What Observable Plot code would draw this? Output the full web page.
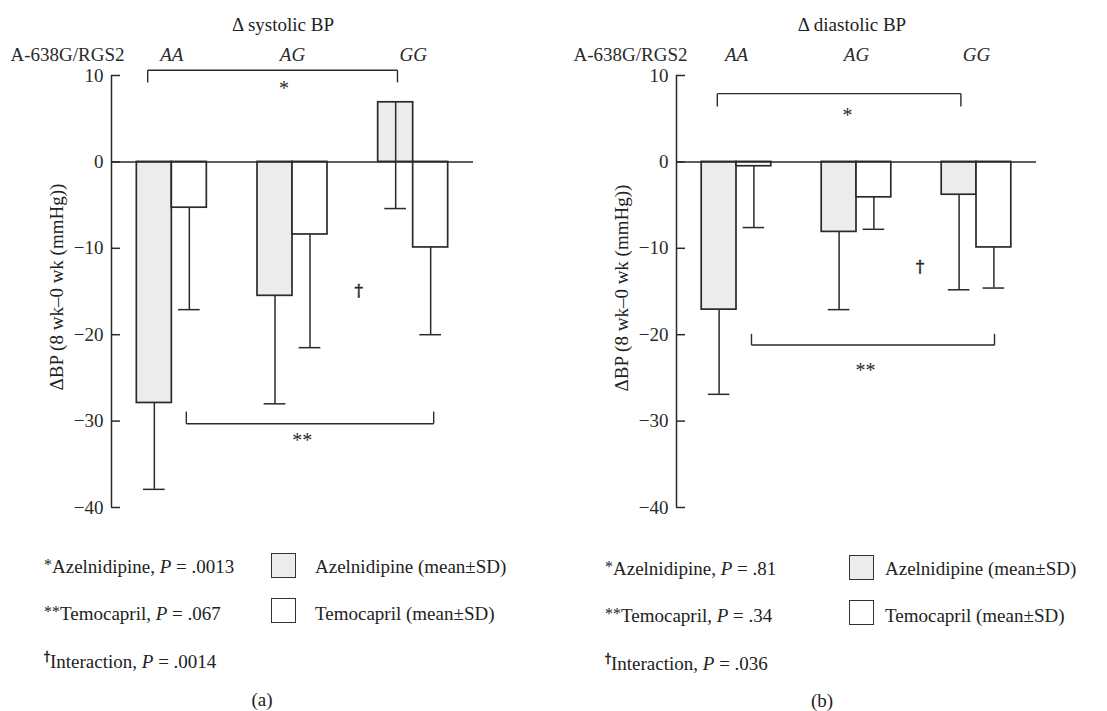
<!DOCTYPE html>
<html><head><meta charset="utf-8">
<script src="https://cdn.jsdelivr.net/npm/d3@7"></script>
<script src="https://cdn.jsdelivr.net/npm/@observablehq/plot@0.6"></script>
<style>
body{margin:0;background:#fff;}
#root{position:relative;width:1107px;height:711px;font-family:"Liberation Serif",serif;color:#222;}
.abs{position:absolute;white-space:nowrap;font-size:19px;line-height:20px;}
.title{transform:translateX(-50%);}
.ylab{transform:translate(-50%,-50%) rotate(-90deg);}
.box{position:absolute;width:25px;height:25px;border:1.5px solid #333;box-sizing:border-box;}
sup{font-size:12px;vertical-align:7px;line-height:0;}
.dag{font-family:"DejaVu Serif",serif;-webkit-text-stroke:0.5px #222;color:#222;}
</style></head>
<body><div id="root"></div>
<script>
// ---------- data ----------
const genotypes = ["AA", "AG", "GG"];
const treatments = ["Azelnidipine", "Temocapril"];
const fills = {Azelnidipine: "#ececec", Temocapril: "#ffffff"};
// panel (a): systolic
const sysAzelMean = [-27.9, -15.5, 6.9];
const sysAzelSD   = [10.0, 12.5, 12.3];
const sysTemoMean = [-5.3, -8.4, -9.9];
const sysTemoSD   = [11.8, 13.1, 10.1];
// panel (b): diastolic
const diaAzelMean = [-17.1, -8.1, -3.8];
const diaAzelSD   = [9.8, 9.0, 11.0];
const diaTemoMean = [-0.5, -4.1, -9.9];
const diaTemoSD   = [7.1, 3.7, 4.7];
const yTicks = [10, 0, -10, -20, -30, -40];
// significance annotations (genotype-index units / mmHg)
const sysBrackets = [{x1: -0.2, x2: 1.87, y: 10.6, yEnd: 9.2},
                     {x1: 0.12, x2: 2.17, y: -30.3, yEnd: -28.9}];
const sysMarks = [{x: 0.93, y: 8.5, label: "*"}, {x: 1.08, y: -32.2, label: "**"}];
const sysDagger = [{x: 1.55, y: -14.9, label: "†"}];
const diaBrackets = [{x1: -0.16, x2: 1.87, y: 7.9, yEnd: 6.4},
                     {x1: 0.125, x2: 2.15, y: -21.2, yEnd: -19.9}];
const diaMarks = [{x: 0.925, y: 5.4, label: "*"}, {x: 1.075, y: -24.2, label: "**"}];
const diaDagger = [{x: 1.53, y: -12.1, label: "†"}];

const BW = 0.29; // bar width in genotype units
const ink = "#2a2a2a";

function rows(azM, azS, teM, teS) {
  const out = [];
  genotypes.forEach((g, i) => {
    out.push({g, i, t: "Azelnidipine", mean: azM[i], sd: azS[i], x1: i - BW, x2: i, cx: i - BW / 2});
    out.push({g, i, t: "Temocapril", mean: teM[i], sd: teS[i], x1: i, x2: i + BW, cx: i + BW / 2});
  });
  return out;
}

function panel(data, brackets, notes, dagger, mLeft, mRight, gDx) {
  const capHalf = 0.09;
  const bracketLines = [];
  brackets.forEach(b => {
    bracketLines.push({x1: b.x1, x2: b.x2, y1: b.y, y2: b.y});
    bracketLines.push({x1: b.x1, x2: b.x1, y1: b.y, y2: b.yEnd});
    bracketLines.push({x1: b.x2, x2: b.x2, y1: b.y, y2: b.yEnd});
  });
  return Plot.plot({
    width: 540, height: 480,
    marginLeft: mLeft, marginRight: mRight, marginTop: 35, marginBottom: 13,
    style: {fontFamily: "'Liberation Serif', serif", fontSize: "19px", color: ink, background: "white"},
    x: {type: "linear", domain: [-0.5, 2.5], axis: null},
    y: {domain: [-40, 10], axis: null},
    marks: [
      Plot.axisY(yTicks, {anchor: "left", tickSize: 0, tickPadding: 8, fontSize: 19, fill: ink}),
      Plot.ruleY(yTicks, {x1: -0.5, x2: -0.5 + 0.075, stroke: ink, strokeWidth: 1.5}),
      Plot.ruleX([-0.5], {y1: -40, y2: 10, stroke: ink, strokeWidth: 1.5}),
      Plot.rectY(data, {x1: "x1", x2: "x2", y1: 0, y2: "mean", fill: d => fills[d.t], stroke: ink, strokeWidth: 1.7}),
      Plot.ruleX(data, {x: "cx", y1: "mean", y2: d => d.mean - d.sd, stroke: ink, strokeWidth: 1.5}),
      Plot.ruleY(data, {y: d => d.mean - d.sd, x1: d => d.cx - capHalf, x2: d => d.cx + capHalf, stroke: ink, strokeWidth: 1.5}),
      Plot.ruleY([0], {x1: -0.5, x2: 2.5, stroke: ink, strokeWidth: 1.5}),
      Plot.link(bracketLines, {x1: "x1", x2: "x2", y1: "y1", y2: "y2", stroke: ink, strokeWidth: 1.4}),
      Plot.text(notes, {x: "x", y: "y", text: "label", fontSize: 20, fill: ink}),
      Plot.text(dagger, {x: "x", y: "y", text: "label", fontSize: 17, fill: ink, stroke: ink, strokeWidth: 0.5, fontFamily: "'DejaVu Serif', serif"}),
      Plot.axisX([0, 1, 2], {anchor: "top", tickSize: 0, tickPadding: 15, tickFormat: i => genotypes[i], fontStyle: "italic", fontSize: 19, fill: ink}),
      Plot.text(["A-638G/RGS2"], {frameAnchor: "top-left", dx: gDx, dy: -15, textAnchor: "start", lineAnchor: "bottom", fontSize: 19, fill: ink})
    ]
  });
}

const root = document.getElementById("root");
function add(html, css, cls) {
  const d = document.createElement("div");
  d.className = "abs " + (cls || "");
  d.innerHTML = html;
  Object.assign(d.style, css);
  root.appendChild(d);
  return d;
}
function place(svg, left, top) {
  svg.style.position = "absolute";
  svg.style.left = left + "px";
  svg.style.top = top + "px";
  root.appendChild(svg);
}

const yLabel = "ΔBP (8 wk–0 wk (mmHg))";
// Panel (a)
add("Δ systolic BP", {left: "283px", top: "15px"}, "title");
place(panel(rows(sysAzelMean, sysAzelSD, sysTemoMean, sysTemoSD), sysBrackets, sysMarks, sysDagger, 111, 67, -101), 0, 40);
add(yLabel, {left: "57px", top: "287px"}, "ylab");
// Panel (b)
add("Δ diastolic BP", {left: "852px", top: "15px"}, "title");
place(panel(rows(diaAzelMean, diaAzelSD, diaTemoMean, diaTemoSD), diaBrackets, diaMarks, diaDagger, 116, 64, -103), 560, 40);
add(yLabel, {left: "622px", top: "288px"}, "ylab");

// Legends
function legend(o) {
  add(`<sup style="font-size:16px;vertical-align:3px">*</sup>Azelnidipine, <i>P</i> = ${o.p1}`, {left: o.tx + "px", top: (o.r1 - 10) + "px"});
  add(`<sup style="font-size:16px;vertical-align:3px">**</sup>Temocapril, <i>P</i> = ${o.p2}`, {left: o.tx + "px", top: (o.r2 - 10) + "px"});
  add(`<sup class="dag">†</sup>Interaction, <i>P</i> = ${o.p3}`, {left: o.tx + "px", top: (o.r3 - 10) + "px"});
  const b1 = document.createElement("div"); b1.className = "box";
  Object.assign(b1.style, {left: o.bx + "px", top: o.b1 + "px", background: fills.Azelnidipine}); root.appendChild(b1);
  const b2 = document.createElement("div"); b2.className = "box";
  Object.assign(b2.style, {left: o.bx + "px", top: o.b2 + "px", background: fills.Temocapril}); root.appendChild(b2);
  add(`${treatments[0]} (mean±SD)`, {left: o.lx + "px", top: (o.r1 - 10) + "px"});
  add(`${treatments[1]} (mean±SD)`, {left: o.lx + "px", top: (o.r2 - 10) + "px"});
  add(o.cap, {left: o.cx + "px", top: (o.cy - 10) + "px"}, "title");
}
legend({p1: ".0013", p2: ".067", p3: ".0014", tx: 44, r1: 567, r2: 614, r3: 662, bx: 271, b1: 553, b2: 598, lx: 315, cap: "(a)", cx: 262, cy: 700});
legend({p1: ".81", p2: ".34", p3: ".036", tx: 605, r1: 569, r2: 616, r3: 664, bx: 849, b1: 555, b2: 600, lx: 885, cap: "(b)", cx: 822, cy: 701});
</script></body></html>
